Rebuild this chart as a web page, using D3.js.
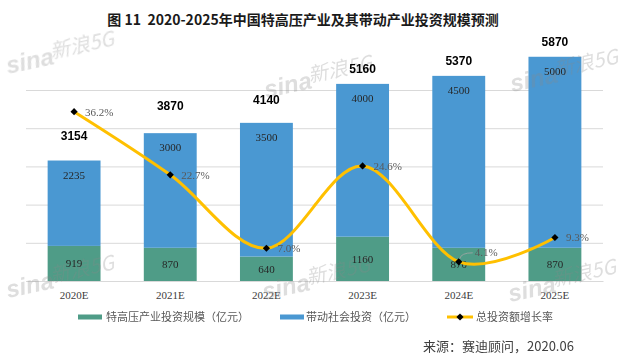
<!DOCTYPE html>
<html lang="zh">

<head>
    <meta charset="utf-8">
    <style>
        body {
            margin: 0;
            background: #fff;
            font-family: 'Noto Sans CJK SC', 'Liberation Sans', sans-serif;
        }
    </style>
</head>

<body>
    <div class='chart'></div>
    <script src="https://d3js.org/d3.v7.min.js"></script>
    <script>
        // data
        const years = ['2020E', '2021E', '2022E', '2023E', '2024E', '2025E'];
        const uhvInvest = [919, 870, 640, 1160, 870, 870];        // 特高压产业投资规模
        const socialInvest = [2235, 3000, 3500, 4000, 4500, 5000]; // 带动社会投资
        const totals = [3154, 3870, 4140, 5160, 5370, 5870];
        const growth = [36.2, 22.7, 7.0, 24.6, 4.1, 9.3];          // 总投资额增长率 (%)
        const yTicks = [0, 1000, 2000, 3000, 4000, 5000];

        // manual nudges of the total labels (as in the source chart)
        const totalLift = [25, 27, 23, 15, 15, 15];

        const width = 630, height = 363;
        const plotLeft = 26, plotRight = 603, plotBottom = 281, plotTop = 51.8;

        const svg = d3.select('.chart').append('svg')
            .attr('width', width)
            .attr('height', height)
            .style('display', 'block');

        const x = d3.scaleBand().domain(years).range([plotLeft, plotRight])
            .paddingInner(0.45).paddingOuter(0.225);
        const y = d3.scaleLinear().domain([0, 6000]).range([plotBottom, plotTop]);
        const y2 = d3.scaleLinear().domain([0, 49]).range([plotBottom, plotTop]);

        const green = '#4f9c87', blue = '#4a98d2', gold = '#ffc000';

        /* TITLE */
        svg.append('text')
            .attr('x', 303).attr('y', 25)
            .attr('text-anchor', 'middle')
            .style('white-space', 'pre')
            .style('font-size', '14px').style('font-weight', 'bold').style('fill', '#1a1a1a')
            .text('图 11  2020-2025年中国特高压产业及其带动产业投资规模预测');

        /* GRID */
        svg.append('g')
            .attr('transform', `translate(${plotLeft},0)`)
            .call(d3.axisLeft(y).tickValues(yTicks).tickSize(-(plotRight - plotLeft)).tickFormat(''))
            .call(g => g.select('.domain').remove())
            .call(g => g.selectAll('line').attr('stroke', '#d9d9d9'));

        /* BARS */
        const bars = svg.append('g');
        bars.selectAll('rect.uhv')
            .data(years)
            .enter()
            .append('rect')
            .attr('class', 'uhv')
            .attr('x', d => x(d))
            .attr('width', x.bandwidth())
            .attr('y', (d, i) => y(uhvInvest[i]))
            .attr('height', (d, i) => y(0) - y(uhvInvest[i]))
            .attr('fill', green);

        bars.selectAll('rect.social')
            .data(years)
            .enter()
            .append('rect')
            .attr('class', 'social')
            .attr('x', d => x(d))
            .attr('width', x.bandwidth())
            .attr('y', (d, i) => y(uhvInvest[i] + socialInvest[i]))
            .attr('height', (d, i) => y(uhvInvest[i]) - y(uhvInvest[i] + socialInvest[i]))
            .attr('fill', blue);

        // x axis
        const xAxis = svg.append('g')
            .attr('transform', `translate(0,${plotBottom})`)
            .call(d3.axisBottom(x).tickSize(0).tickPadding(10));
        xAxis.select('.domain').attr('stroke', '#d9d9d9');
        xAxis.selectAll('text')
            .style('font-family', "'Liberation Serif', serif")
            .style('font-size', '11px').style('fill', '#404040');

        /* WATERMARKS (sina 新浪5G) */
        const marks = [[8, 74], [266, 98], [512, 92], [8, 298], [264, 300], [510, 302]];
        const wm = svg.append('g').style('opacity', 0.28).style('fill', '#8a8a8a');
        marks.forEach(([mx, my]) => {
            const g = wm.append('g').attr('transform', `translate(${mx},${my}) rotate(-12)`);
            g.append('text').text('sina')
                .style('font-family', "'Liberation Sans', sans-serif")
                .style('font-size', '24px').style('font-weight', 'bold').style('font-style', 'italic');
            g.append('text').text('新浪5G').attr('x', 46).attr('y', -6)
                .style('font-size', '20px').style('font-style', 'italic');
        });

        /* BAR LABELS */
        const labels = svg.append('g')
            .style('font-family', "'Liberation Serif', serif")
            .style('font-size', '11px').style('fill', '#262626')
            .attr('text-anchor', 'middle');

        labels.selectAll('text.uhv')
            .data(years)
            .enter()
            .append('text')
            .attr('x', d => x(d) + x.bandwidth() / 2)
            .attr('y', (d, i) => (y(0) + y(uhvInvest[i])) / 2 + 4)
            .text((d, i) => uhvInvest[i]);

        labels.selectAll('text.social')
            .data(years)
            .enter()
            .append('text')
            .attr('x', d => x(d) + x.bandwidth() / 2)
            .attr('y', (d, i) => y(uhvInvest[i] + socialInvest[i]) + 18)
            .text((d, i) => socialInvest[i]);

        svg.append('g').selectAll('text')
            .data(years)
            .enter()
            .append('text')
            .attr('x', d => x(d) + x.bandwidth() / 2)
            .attr('y', (d, i) => y(totals[i]) - totalLift[i] + 4)
            .attr('text-anchor', 'middle')
            .style('font-family', "'Liberation Sans', sans-serif")
            .style('font-size', '12px').style('font-weight', 'bold').style('fill', '#000')
            .text((d, i) => totals[i]);

        /* GROWTH LINE */
        const cx = d => x(d) + x.bandwidth() / 2;
        const line = d3.line()
            .x(d => cx(d))
            .y((d, i) => y2(growth[i]))
            .curve(d3.curveCardinal);

        svg.append('path')
            .datum(years)
            .attr('d', line)
            .attr('fill', 'none')
            .attr('stroke', gold)
            .attr('stroke-width', 3);

        // square marker turned 45 degrees
        const diamond = d3.symbol().type(d3.symbolSquare).size(26);
        svg.append('g').selectAll('path')
            .data(years)
            .enter()
            .append('path')
            .attr('d', diamond)
            .attr('transform', (d, i) => `translate(${cx(d)},${y2(growth[i])}) rotate(45)`)
            .attr('fill', '#000');

        // growth labels (4.1% moved off its point with a leader line)
        svg.append('g').selectAll('text')
            .data(years)
            .enter()
            .append('text')
            .attr('x', (d, i) => cx(d) + (i === 4 ? 16 : 11))
            .attr('y', (d, i) => y2(growth[i]) + (i === 4 ? -6 : 4))
            .style('font-family', "'Liberation Serif', serif")
            .style('font-size', '11px').style('fill', '#595959')
            .text((d, i) => growth[i].toFixed(1) + '%');

        svg.append('path')
            .attr('d', `M${cx(years[4]) + 1},${y2(growth[4]) - 3} q1,-6 13,-6`)
            .attr('fill', 'none').attr('stroke', '#a6a6a6').attr('stroke-width', 0.8);

        /* LEGEND */
        const legend = svg.append('g').style('font-size', '11px').style('fill', '#595959');
        const ly = 317;
        legend.append('rect').attr('x', 78).attr('y', ly - 2.5).attr('width', 24).attr('height', 5).attr('fill', green);
        legend.append('text').attr('x', 106).attr('y', ly + 4).text('特高压产业投资规模（亿元）');
        legend.append('rect').attr('x', 280).attr('y', ly - 2.5).attr('width', 24).attr('height', 5).attr('fill', blue);
        legend.append('text').attr('x', 306).attr('y', ly + 4).text('带动社会投资（亿元）');
        legend.append('line').attr('x1', 447).attr('x2', 473).attr('y1', ly).attr('y2', ly)
            .attr('stroke', gold).attr('stroke-width', 3);
        legend.append('path').attr('d', diamond).attr('transform', `translate(460,${ly}) rotate(45)`).attr('fill', '#000');
        legend.append('text').attr('x', 476).attr('y', ly + 4).text('总投资额增长率');

        /* SOURCE */
        svg.append('text')
            .attr('x', 423).attr('y', 351)
            .style('font-size', '13px').style('fill', '#404040')
            .text('来源：赛迪顾问，2020.06');
    </script>
</body>

</html>
